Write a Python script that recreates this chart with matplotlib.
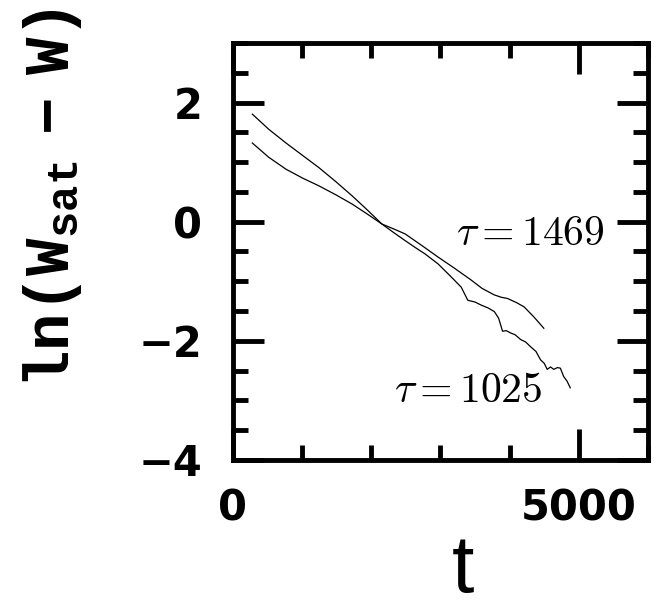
import matplotlib
matplotlib.use("Agg")
import matplotlib.pyplot as plt
from matplotlib.ticker import MultipleLocator

plt.rcParams['mathtext.fontset'] = 'custom'
plt.rcParams['mathtext.rm'] = 'Liberation Mono:bold'
plt.rcParams['mathtext.bf'] = 'Liberation Mono:bold'

# tau = 1025 curve (steeper, starts higher)
t_fast = [282, 520, 769, 1010, 1246, 1490, 1724, 1940, 2154, 2320, 2488, 2630, 2775,
          2966, 3157, 3300, 3395, 3500, 3586, 3690, 3778, 3840, 3897, 3950, 4016,
          4080, 4159, 4230, 4302, 4380, 4446, 4500, 4542, 4590, 4637, 4690, 4732,
          4780, 4830, 4875]
y_fast = [1.805, 1.55, 1.32, 1.11, 0.905, 0.67, 0.433, 0.20, -0.04, -0.18, -0.317,
          -0.43, -0.54, -0.71, -0.93, -1.10, -1.32, -1.35, -1.40, -1.45, -1.51, -1.62,
          -1.84, -1.83, -1.87, -1.90, -1.98, -2.02, -2.10, -2.18, -2.32, -2.38, -2.48,
          -2.44, -2.48, -2.45, -2.46, -2.60, -2.68, -2.79]

# tau = 1469 curve (flatter, starts lower)
t_slow = [282, 520, 769, 1010, 1246, 1490, 1724, 1940, 2154, 2320, 2488, 2730, 2966,
          3200, 3443, 3600, 3778, 3880, 3969, 4100, 4207, 4350, 4493]
y_slow = [1.32, 1.08, 0.88, 0.73, 0.60, 0.45, 0.295, 0.13, -0.04, -0.12, -0.205,
          -0.40, -0.595, -0.78, -0.98, -1.12, -1.23, -1.27, -1.29, -1.36, -1.43,
          -1.60, -1.79]

fig = plt.figure(figsize=(6.54, 6.14), dpi=100)
ax = fig.add_axes([0.356, 0.251, 0.635, 0.679])

ax.plot(t_slow, y_slow, color="black", lw=0.9)
ax.plot(t_fast, y_fast, color="black", lw=0.9)

ax.set_xlim(0, 6000)
ax.set_ylim(-4, 3)
ax.xaxis.set_major_locator(MultipleLocator(5000))
ax.xaxis.set_minor_locator(MultipleLocator(1000))
ax.yaxis.set_major_locator(MultipleLocator(2))
ax.yaxis.set_minor_locator(MultipleLocator(0.5))

for s in ax.spines.values():
    s.set_linewidth(3.5)
ax.tick_params(which="both", direction="in", top=True, right=True, width=3.5)
ax.tick_params(which="major", length=22)
ax.tick_params(which="minor", length=11)
ax.tick_params(axis="y", pad=22)
ax.tick_params(axis="x", pad=20)
for lab in ax.get_xticklabels() + ax.get_yticklabels():
    lab.set_fontsize(30)
    lab.set_fontweight("bold")

ax.text(5372, -0.40, r"$\tau = 1469$", fontsize=30, ha="right", va="baseline",
        math_fontfamily="cm")
ax.text(4470, -3.02, r"$\tau = 1025$", fontsize=30, ha="right", va="baseline",
        math_fontfamily="cm")

fig.text(0.08, 0.678, r"$\mathrm{ln(W_{sat}\,-\,W)}$", rotation=90, fontsize=45,
         ha="center", va="center")
fig.text(0.708, 0.07, "t", fontsize=58, family="Liberation Sans",
         ha="center", va="center")

fig.savefig("out.png", dpi=100)
